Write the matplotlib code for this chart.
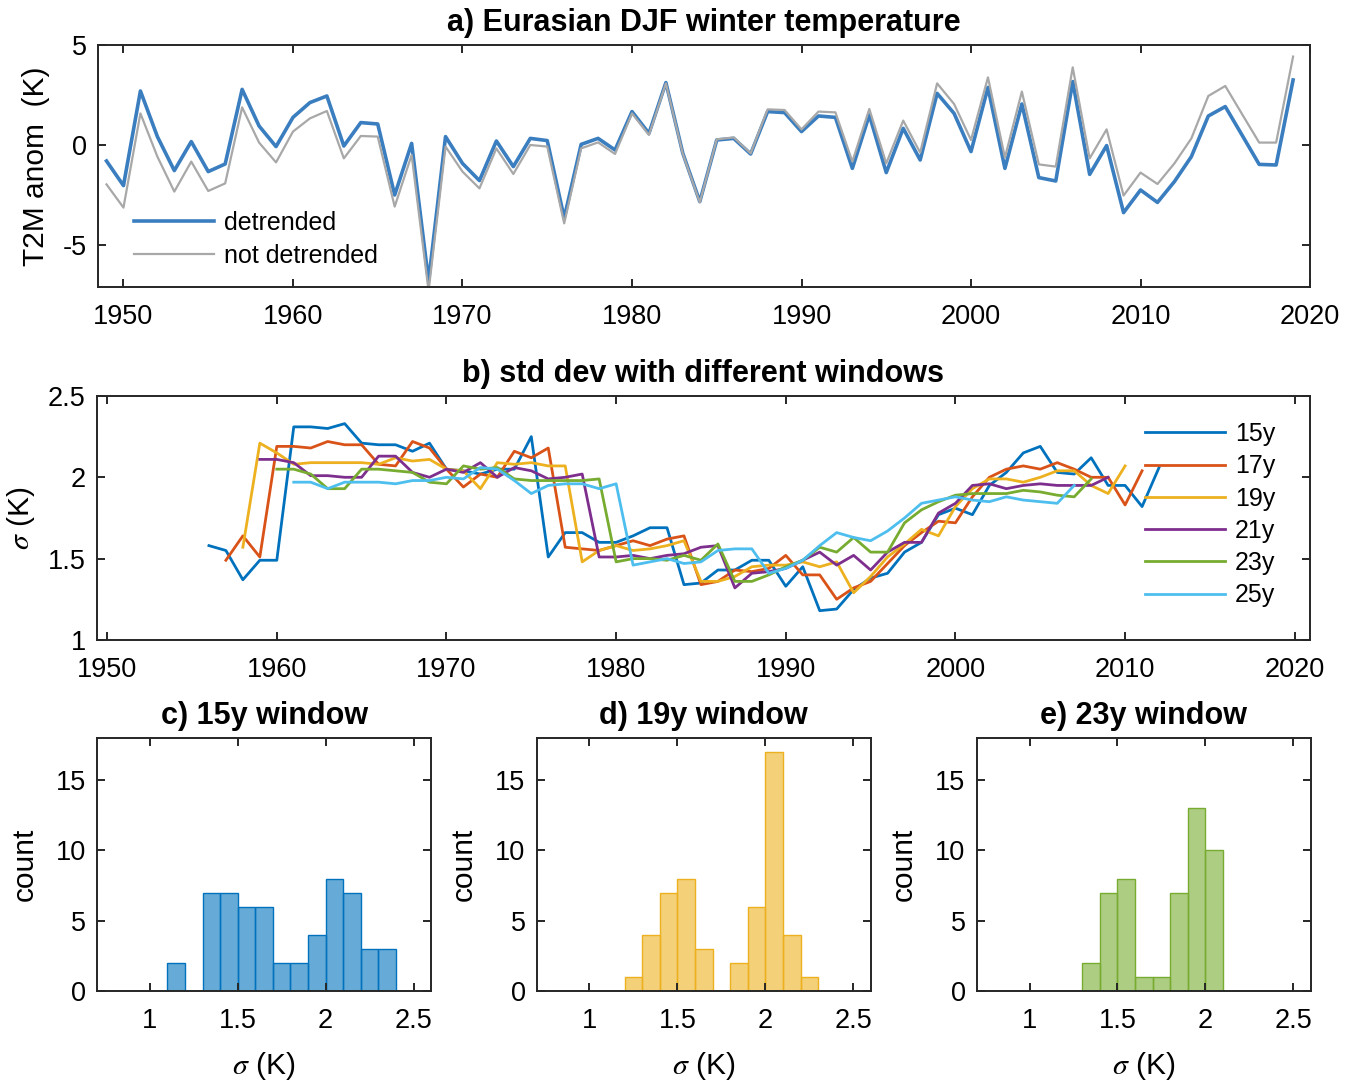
import numpy as np
import matplotlib
matplotlib.use('Agg')
import matplotlib.pyplot as plt
from matplotlib.ticker import FormatStrFormatter

plt.rcParams['font.family'] = ['Liberation Sans', 'DejaVu Sans']
plt.rcParams['font.size'] = 18
plt.rcParams['axes.unicode_minus'] = False
plt.rcParams['mathtext.fontset'] = 'stix'
plt.rcParams['axes.linewidth'] = 1.4
plt.rcParams['axes.edgecolor'] = '#262626'

# ---- data ----
years = np.arange(1949, 2020)

t2m_detrended = [-0.80, -2.03, 2.70, 0.42, -1.28, 0.17, -1.33, -0.95, 2.78, 0.95,
                 -0.08, 1.38, 2.12, 2.45, -0.05, 1.12, 1.05, -2.50, 0.08, -6.80,
                 0.42, -0.92, -1.78, 0.20, -1.08, 0.33, 0.22, -3.65, 0.03, 0.33,
                 -0.25, 1.67, 0.58, 3.12, -0.42, -2.83, 0.25, 0.33, -0.45, 1.67,
                 1.62, 0.67, 1.45, 1.38, -1.17, 1.50, -1.38, 0.83, -0.75, 2.58,
                 1.58, -0.33, 2.88, -1.17, 2.05, -1.63, -1.80, 3.17, -1.47, -0.03,
                 -3.38, -2.25, -2.87, -1.83, -0.58, 1.45, 1.92, 0.48, -0.97, -1.00,
                 3.25]
t2m_raw = [-1.97, -3.13, 1.58, -0.58, -2.33, -0.83, -2.30, -1.92, 1.88, 0.12,
           -0.87, 0.67, 1.33, 1.70, -0.67, 0.45, 0.42, -3.08, -0.50, -7.30,
           -0.08, -1.33, -2.17, -0.17, -1.45, 0.00, -0.08, -3.92, -0.17, 0.13,
           -0.45, 1.58, 0.50, 3.08, -0.45, -2.87, 0.28, 0.38, -0.42, 1.78,
           1.75, 0.78, 1.67, 1.63, -0.83, 1.80, -0.92, 1.22, -0.38, 3.08,
           2.05, 0.25, 3.38, -0.63, 2.67, -0.97, -1.08, 3.88, -0.67, 0.78,
           -2.53, -1.38, -1.95, -0.92, 0.33, 2.45, 2.95, 1.53, 0.12, 0.12,
           4.42]

# running std dev, centred windows (first centre year, values)
std15_start = 1956
std15 = [1.58, 1.55, 1.37, 1.49, 1.49, 2.31, 2.31, 2.30, 2.33, 2.21,
         2.20, 2.20, 2.16, 2.21, 2.05, 2.04, 2.02, 2.05, 2.05, 2.25,
         1.51, 1.66, 1.66, 1.60, 1.60, 1.64, 1.69, 1.69, 1.34, 1.35,
         1.43, 1.43, 1.49, 1.49, 1.33, 1.45, 1.18, 1.19, 1.31, 1.38,
         1.41, 1.54, 1.60, 1.77, 1.81, 1.77, 1.95, 2.03, 2.15, 2.19,
         2.03, 2.02, 2.12, 1.95, 1.95, 1.82, 2.06]
std17_start = 1957
std17 = [1.49, 1.64, 1.51, 2.19, 2.19, 2.18, 2.22, 2.20, 2.20, 2.08,
         2.07, 2.22, 2.18, 2.05, 1.94, 2.02, 2.00, 2.16, 2.12, 2.18,
         1.57, 1.56, 1.55, 1.58, 1.61, 1.58, 1.62, 1.64, 1.34, 1.36,
         1.43, 1.42, 1.44, 1.52, 1.40, 1.40, 1.25, 1.32, 1.36, 1.47,
         1.58, 1.66, 1.73, 1.72, 1.88, 2.00, 2.05, 2.07, 2.05, 2.09,
         2.05, 2.00, 2.00, 1.83, 2.04]
std19_start = 1958
std19 = [1.57, 2.21, 2.15, 2.08, 2.09, 2.09, 2.09, 2.09, 2.08, 2.12,
         2.10, 2.11, 2.05, 2.04, 1.93, 2.09, 2.08, 2.09, 2.07, 2.07,
         1.48, 1.55, 1.58, 1.55, 1.56, 1.58, 1.61, 1.36, 1.36, 1.39,
         1.45, 1.46, 1.46, 1.48, 1.45, 1.48, 1.29, 1.39, 1.51, 1.59,
         1.68, 1.64, 1.82, 1.93, 1.99, 1.99, 1.97, 2.00, 2.04, 2.04,
         1.95, 1.90, 2.07]
std21_start = 1959
std21 = [2.11, 2.11, 2.09, 2.01, 2.01, 2.00, 2.00, 2.13, 2.13, 2.03,
         2.00, 2.05, 2.03, 2.09, 2.00, 2.06, 2.04, 1.99, 2.00, 2.02,
         1.51, 1.51, 1.52, 1.50, 1.52, 1.53, 1.57, 1.58, 1.32, 1.41,
         1.42, 1.44, 1.49, 1.54, 1.46, 1.52, 1.43, 1.54, 1.60, 1.60,
         1.78, 1.84, 1.95, 1.96, 1.93, 1.95, 1.96, 1.95, 1.95, 1.95,
         2.00]
std23_start = 1960
std23 = [2.05, 2.05, 2.02, 1.93, 1.93, 2.05, 2.05, 2.04, 2.03, 1.97,
         1.96, 2.07, 2.05, 2.06, 1.99, 1.98, 1.98, 1.98, 1.98, 1.99,
         1.48, 1.50, 1.50, 1.49, 1.52, 1.49, 1.59, 1.36, 1.36, 1.40,
         1.45, 1.49, 1.57, 1.54, 1.63, 1.54, 1.54, 1.72, 1.80, 1.85,
         1.89, 1.90, 1.90, 1.90, 1.92, 1.91, 1.89, 1.88, 1.99]
std25_start = 1961
std25 = [1.97, 1.97, 1.93, 1.97, 1.97, 1.97, 1.96, 1.98, 1.98, 2.00,
         1.99, 2.06, 2.05, 1.98, 1.90, 1.95, 1.96, 1.96, 1.93, 1.96,
         1.46, 1.48, 1.50, 1.47, 1.48, 1.55, 1.56, 1.56, 1.41, 1.44,
         1.49, 1.58, 1.66, 1.63, 1.61, 1.67, 1.75, 1.84, 1.86, 1.88,
         1.86, 1.85, 1.88, 1.86, 1.85, 1.84, 1.95]

window_labels = ['15y', '17y', '19y', '21y', '23y', '25y']

# histogram counts (bin width 0.1 K, left edges given)
hist15_edges = [1.1, 1.2, 1.3, 1.4, 1.5, 1.6, 1.7, 1.8, 1.9, 2.0, 2.1, 2.2, 2.3]
hist15_counts = [2, 0, 7, 7, 6, 6, 2, 2, 4, 8, 7, 3, 3]
hist19_edges = [1.2, 1.3, 1.4, 1.5, 1.6, 1.7, 1.8, 1.9, 2.0, 2.1, 2.2]
hist19_counts = [1, 4, 7, 8, 3, 0, 2, 6, 17, 4, 1]
hist23_edges = [1.3, 1.4, 1.5, 1.6, 1.7, 1.8, 1.9, 2.0]
hist23_counts = [2, 7, 8, 1, 1, 7, 13, 10]

colors = ['#0072BD', '#D95319', '#EDB120', '#7E2F8E', '#77AC30', '#4DBEEE']

TICK_FS = 19.5
LABEL_FS = 21.5
TITLE_FS = 22


def style_axis(ax):
    ax.tick_params(direction='in', top=True, right=True, length=6, width=1.4,
                   color='#262626', labelsize=TICK_FS)
    ax.tick_params(axis='x', pad=12.5)
    ax.tick_params(axis='y', pad=8)


fig = plt.figure(figsize=(13.56, 10.81), dpi=100)

# ---- a) ----
ax_a = fig.add_axes([0.0723, 0.7345, 0.8938, 0.2239])
ax_a.plot(years, t2m_detrended, color='#3A7EC0', lw=2.6, label='detrended')
ax_a.plot(years, t2m_raw, color='#A8A8A8', lw=1.6, label='not detrended')
ax_a.set_xlim(1948.5, 2020)
ax_a.set_ylim(-7.1, 5)
ax_a.set_xticks(np.arange(1950, 2021, 10))
ax_a.set_yticks([-5, 0, 5])
ax_a.set_ylabel('T2M anom  (K)', fontsize=LABEL_FS)
ax_a.yaxis.set_label_coords(-0.040, 0.5)
ax_a.set_title('a) Eurasian DJF winter temperature', fontweight='bold',
               fontsize=TITLE_FS, pad=10)
ax_a.legend(loc='lower left', bbox_to_anchor=(0.015, 0.008), frameon=False,
            handlelength=3.2, labelspacing=0.36, borderaxespad=0.3,
            handletextpad=0.4)
style_axis(ax_a)

# ---- b) ----
ax_b = fig.add_axes([0.0715, 0.4080, 0.8946, 0.2257])
series = [(std15_start, std15), (std17_start, std17), (std19_start, std19),
          (std21_start, std21), (std23_start, std23), (std25_start, std25)]
for (start, vals), c, lab in zip(series, colors, window_labels):
    yrs = np.arange(start, start + len(vals))
    ax_b.plot(yrs, vals, color=c, lw=2.0, label=lab)
ax_b.set_xlim(1949.4, 2020.9)
ax_b.set_ylim(1, 2.5)
ax_b.set_xticks(np.arange(1950, 2021, 10))
ax_b.set_yticks([1, 1.5, 2, 2.5])
ax_b.yaxis.set_major_formatter(FormatStrFormatter('%g'))
ax_b.set_ylabel(r'$\sigma$ (K)', fontsize=LABEL_FS)
ax_b.yaxis.set_label_coords(-0.0495, 0.5)
ax_b.set_title('b) std dev with different windows', fontweight='bold',
               fontsize=TITLE_FS, pad=10)
ax_b.legend(loc='upper right', bbox_to_anchor=(0.988, 0.975), frameon=False,
            handlelength=3.2, labelspacing=0.33, borderaxespad=0.4,
            handletextpad=0.4)
style_axis(ax_b)

# ---- c), d), e) histograms ----
hists = [(hist15_edges, hist15_counts, colors[0], 'c) 15y window'),
         (hist19_edges, hist19_counts, colors[2], 'd) 19y window'),
         (hist23_edges, hist23_counts, colors[4], 'e) 23y window')]
lefts = [0.0715, 0.3958, 0.7203]
for left, (edges, counts, c, title) in zip(lefts, hists):
    ax = fig.add_axes([left, 0.0833, 0.2465, 0.2340])
    ax.bar(edges, counts, width=0.1, align='edge', color=c, alpha=0.6,
           edgecolor='none')
    ax.bar(edges, counts, width=0.1, align='edge', fill=False, edgecolor=c,
           lw=1.0)
    ax.set_xlim(0.7, 2.6)
    ax.set_ylim(0, 18)
    ax.set_xticks([1, 1.5, 2, 2.5])
    ax.set_yticks([0, 5, 10, 15])
    ax.xaxis.set_major_formatter(FormatStrFormatter('%g'))
    ax.set_xlabel(r'$\sigma$ (K)', fontsize=LABEL_FS)
    ax.xaxis.set_label_coords(0.5, -0.235)
    ax.set_ylabel('count', fontsize=LABEL_FS)
    ax.yaxis.set_label_coords(-0.175, 0.5)
    ax.set_title(title, fontweight='bold', fontsize=TITLE_FS, pad=10)
    style_axis(ax)

fig.savefig('out.png', dpi=100)
